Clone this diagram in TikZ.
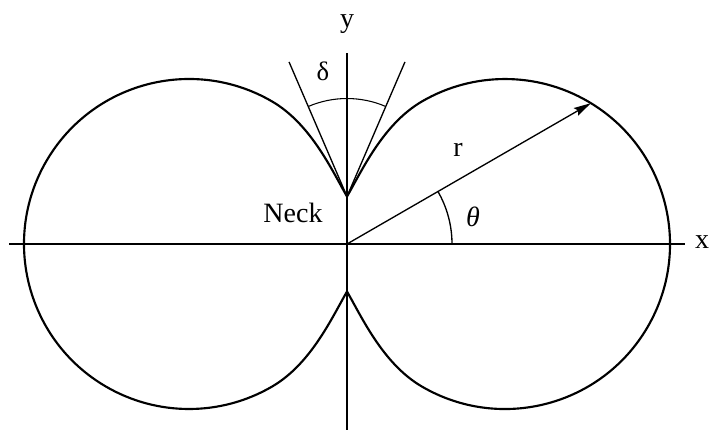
\documentclass[tikz,border=0pt]{standalone}
\usepackage{fontspec}
\setmainfont{Liberation Serif}
\usetikzlibrary{arrows.meta,calc}
\begin{document}
\begin{tikzpicture}[x=0.75pt,y=-0.75pt,
  axis/.style={line width=0.8pt},
  lobe/.style={line width=1.6pt, line join=miter},
  thin/.style={line width=1pt},
  lbl/.style={font=\fontsize{21}{24}\selectfont, inner sep=0pt}]
\useasboundingbox (0,0) rectangle (709,430);
% key points
\coordinate (O) at (347,244);
\coordinate (Cu) at (347,196.5);
\coordinate (Cd) at (347,291.5);
\coordinate (Xl) at (9,244);
\coordinate (Xr) at (685,244);
\coordinate (Yt) at (347,53);
\coordinate (Yb) at (347,430);
% neck join points on the lobes
\coordinate (Pul) at (272,101.4);
\coordinate (Pll) at (272,386.6);
\coordinate (Pur) at (422,101.4);
\coordinate (Plr) at (422,386.6);
% axes
\draw[axis] (Xl) -- (Xr);
\draw[axis] (Yt) -- (Yb);
% left lobe
\draw[lobe] (Cu) .. controls (332,170.5) and (310.9,124.0) .. (Pul)
  arc[start angle=-59.8, end angle=-300.2, radius=165]
  .. controls (310.9,364.0) and (332,317.5) .. (Cd);
% right lobe
\draw[lobe] (Cd) .. controls (362,317.5) and (383.1,364.0) .. (Plr)
  arc[start angle=120.2, end angle=-120.2, radius=165]
  .. controls (383.1,124.0) and (362,170.5) .. (Cu);
% radius vector
\coordinate (R) at ($(O)+(-30:281.7)$);
\draw[thin, -{Stealth[length=13pt,width=6.5pt,inset=2pt]}] (O) -- (R);
% theta arc
\draw[thin] ($(O)+(105,0)$) arc[start angle=0, end angle=-30, radius=105];
% tangent lines at neck
\coordinate (Tl) at ($(Cu)+(-113.3:146.5)$);
\coordinate (Tr) at ($(Cu)+(-66.7:146.5)$);
\draw[thin] (Cu) -- (Tl);
\draw[thin] (Cu) -- (Tr);
\draw[axis] ($(Cu)+(-113.3:98)$) arc[start angle=-113.3, end angle=-66.7, radius=98];
% labels
\node[lbl] (ly) at (347,24) {y};
\node[lbl] (lx) at (702,242) {x};
\node[lbl, font=\fontsize{20}{22}\selectfont] (ld) at (323,71) {δ};
\node[lbl] (ln) at (293,213) {Neck};
\node[lbl] (lr) at (458,150) {r};
\node[lbl] (lt) at (473,217) {\textit{θ}};
\end{tikzpicture}
\end{document}
